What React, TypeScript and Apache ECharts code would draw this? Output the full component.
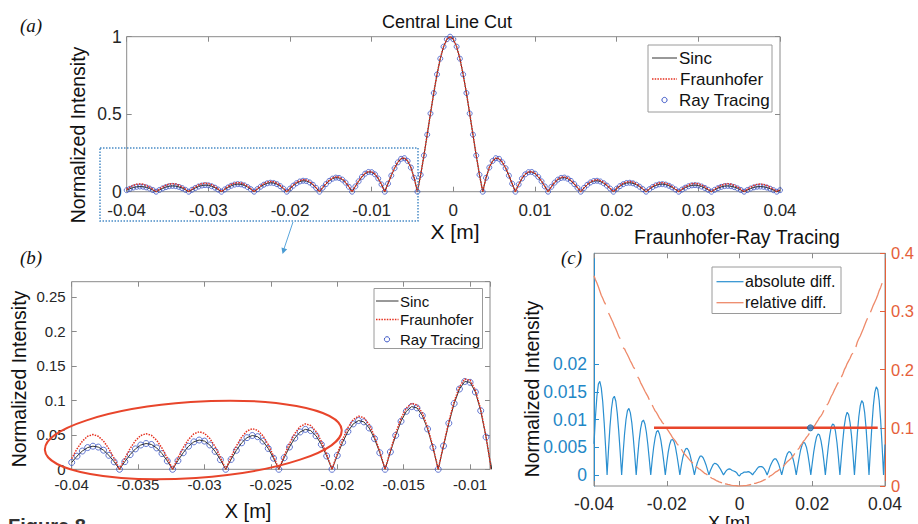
import React, { useEffect, useRef } from "react";
import * as echarts from "echarts";

// sample grid of the line cut (x in metres)
const X_START = -0.04;
const X_STEP = 0.0004;

// |sinc| line cut (normalized intensity), 201 samples
const SINC = [
  0.0099, 0.0191, 0.0265, 0.0315, 0.0335, 0.0322, 0.0277, 0.0203, 0.0108, 0,
  0.0111, 0.0213, 0.0296, 0.0352, 0.0374, 0.0360, 0.0310, 0.0228, 0.0121, 0,
  0.0125, 0.0240, 0.0334, 0.0398, 0.0424, 0.0409, 0.0353, 0.0260, 0.0139, 0,
  0.0143, 0.0275, 0.0384, 0.0459, 0.0490, 0.0473, 0.0409, 0.0302, 0.0161, 0,
  0.0167, 0.0323, 0.0452, 0.0541, 0.0579, 0.0561, 0.0486, 0.0360, 0.0193, 0,
  0.0201, 0.0390, 0.0548, 0.0658, 0.0707, 0.0688, 0.0599, 0.0445, 0.0240, 0,
  0.0252, 0.0492, 0.0696, 0.0841, 0.0909, 0.0890, 0.0780, 0.0585, 0.0317, 0,
  0.0339, 0.0668, 0.0954, 0.1164, 0.1273, 0.1261, 0.1120, 0.0850, 0.0468, 0,
  0.0518, 0.1039, 0.1515, 0.1892, 0.2122, 0.2162, 0.1981, 0.1559, 0.0894, 0,
  0.1093, 0.2339, 0.3679, 0.5046, 0.6366, 0.7568, 0.8584, 0.9355, 0.9836, 1,
  0.9836, 0.9355, 0.8584, 0.7568, 0.6366, 0.5046, 0.3679, 0.2339, 0.1093, 0,
  0.0894, 0.1559, 0.1981, 0.2162, 0.2122, 0.1892, 0.1515, 0.1039, 0.0518, 0,
  0.0468, 0.0850, 0.1120, 0.1261, 0.1273, 0.1164, 0.0954, 0.0668, 0.0339, 0,
  0.0317, 0.0585, 0.0780, 0.0890, 0.0909, 0.0841, 0.0696, 0.0492, 0.0252, 0,
  0.0240, 0.0445, 0.0599, 0.0688, 0.0707, 0.0658, 0.0548, 0.0390, 0.0201, 0,
  0.0193, 0.0360, 0.0486, 0.0561, 0.0579, 0.0541, 0.0452, 0.0323, 0.0167, 0,
  0.0161, 0.0302, 0.0409, 0.0473, 0.0490, 0.0459, 0.0384, 0.0275, 0.0143, 0,
  0.0139, 0.0260, 0.0353, 0.0409, 0.0424, 0.0398, 0.0334, 0.0240, 0.0125, 0,
  0.0121, 0.0228, 0.0310, 0.0360, 0.0374, 0.0352, 0.0296, 0.0213, 0.0111, 0,
  0.0108, 0.0203, 0.0277, 0.0322, 0.0335, 0.0315, 0.0265, 0.0191, 0.0099, 0,
  0.0097,
];

// Fraunhofer line cut, 201 samples
const FRAUNHOFER = [
  0.0155, 0.0296, 0.0407, 0.0479, 0.0504, 0.0479, 0.0409, 0.0297, 0.0157, 0,
  0.0158, 0.0301, 0.0415, 0.0490, 0.0516, 0.0493, 0.0421, 0.0307, 0.0162, 0,
  0.0164, 0.0314, 0.0434, 0.0514, 0.0544, 0.0521, 0.0447, 0.0327, 0.0174, 0,
  0.0176, 0.0337, 0.0467, 0.0555, 0.0589, 0.0565, 0.0486, 0.0357, 0.0189, 0,
  0.0194, 0.0373, 0.0519, 0.0619, 0.0659, 0.0635, 0.0548, 0.0404, 0.0216, 0,
  0.0223, 0.0431, 0.0603, 0.0721, 0.0771, 0.0748, 0.0649, 0.0480, 0.0258, 0,
  0.0269, 0.0523, 0.0737, 0.0888, 0.0957, 0.0934, 0.0816, 0.0610, 0.0330, 0,
  0.0351, 0.0690, 0.0983, 0.1198, 0.1307, 0.1292, 0.1145, 0.0868, 0.0477, 0,
  0.0526, 0.1053, 0.1534, 0.1913, 0.2142, 0.2180, 0.1995, 0.1569, 0.0899, 0,
  0.1097, 0.2347, 0.3689, 0.5057, 0.6376, 0.7576, 0.8591, 0.9361, 0.9840, 1,
  0.9834, 0.9357, 0.8587, 0.7573, 0.6371, 0.5051, 0.3685, 0.2344, 0.1096, 0,
  0.0898, 0.1566, 0.1992, 0.2176, 0.2137, 0.1907, 0.1529, 0.1050, 0.0524, 0,
  0.0475, 0.0865, 0.1141, 0.1287, 0.1302, 0.1193, 0.0979, 0.0687, 0.0349, 0,
  0.0328, 0.0607, 0.0812, 0.0929, 0.0951, 0.0882, 0.0732, 0.0519, 0.0267, 0,
  0.0256, 0.0476, 0.0644, 0.0742, 0.0766, 0.0715, 0.0598, 0.0427, 0.0221, 0,
  0.0214, 0.0401, 0.0543, 0.0630, 0.0653, 0.0613, 0.0514, 0.0369, 0.0192, 0,
  0.0187, 0.0352, 0.0480, 0.0559, 0.0582, 0.0549, 0.0462, 0.0333, 0.0174, 0,
  0.0171, 0.0322, 0.0441, 0.0514, 0.0537, 0.0507, 0.0428, 0.0310, 0.0162, 0,
  0.0159, 0.0303, 0.0415, 0.0485, 0.0508, 0.0482, 0.0409, 0.0297, 0.0156, 0,
  0.0154, 0.0292, 0.0402, 0.0471, 0.0494, 0.0469, 0.0399, 0.0290, 0.0152, 0,
  0.0152,
];

// ray-tracing samples coincide with the sinc values at this resolution
const RAY_TRACING = [...SINC];

// panel (c) marker line and point (right axis)
const THRESHOLD_X = [-0.0235, 0.038];
const THRESHOLD_Y = 0.1;
const CROSS_POINT = [0.0195, 0.1];

const X = SINC.map((_, k) => +(X_START + k * X_STEP).toFixed(4));
const pairs = (ys: (number | null)[]) => ys.map((y, k) => [X[k], y]);
const ABS_DIFF = FRAUNHOFER.map((f, k) => +(f - RAY_TRACING[k]).toFixed(5));
const REL_DIFF = FRAUNHOFER.map((f, k) =>
  RAY_TRACING[k] === 0 ? null : +((f - RAY_TRACING[k]) / f).toFixed(5)
);

const FONT = "'Liberation Sans', Arial, Helvetica, sans-serif";
const SERIF = "'Liberation Serif', 'Times New Roman', serif";
const GREY = "#8a8a8a";
const TXT = "#262626";
const RED = "#e5301f";
const BLUE_M = "#3b55c6";
const C_BLUE = "#2a8fd0";
const C_BLUE_TXT = "#1f87c6";
const C_ORANGE = "#e5603a";
const C_ORANGE_LINE = "#ee8a6a";

function xAx(grid: number, pos: string, min: number, max: number, interval: number, fs: number, margin: number, labels = true, showMax = false) {
  return {
    type: "value", gridIndex: grid, position: pos, min, max, interval,
    axisLine: { show: false, onZero: false },
    axisTick: { show: true, inside: true, length: 5, lineStyle: { color: GREY } },
    splitLine: { show: false },
    axisLabel: { show: labels, color: TXT, fontSize: fs, margin, fontFamily: FONT, showMaxLabel: showMax, showMinLabel: true },
  };
}
function yAx(grid: number, pos: string, min: number, max: number, interval: number, fs: number, margin: number, labels = true, showMax = true) {
  return {
    type: "value", gridIndex: grid, position: pos, min, max, interval,
    axisLine: { show: false, onZero: false },
    axisTick: { show: true, inside: true, length: 5, lineStyle: { color: GREY } },
    splitLine: { show: false },
    axisLabel: { show: labels, color: TXT, fontSize: fs, margin, fontFamily: FONT, showMaxLabel: showMax },
  };
}

const lineS = (name: string, xi: number, yi: number, data: any, color: string, width: number, type: any) => ({
  name, type: "line", xAxisIndex: xi, yAxisIndex: yi, data, symbol: "none", showSymbol: false,
  lineStyle: { color, width, type }, silent: true, clip: true,
});
const scatterS = (name: string, xi: number, yi: number, data: any, size: number) => ({
  name, type: "scatter", xAxisIndex: xi, yAxisIndex: yi, data, symbol: "circle", symbolSize: size,
  itemStyle: { color: "rgba(0,0,0,0)", borderColor: BLUE_M, borderWidth: 1 }, silent: true, clip: true,
});

const txt = (text: string, x: number, y: number, font: string, fill = "#111", align = "center", rotation = 0) => ({
  type: "text", x, y, rotation, z: 100, silent: true,
  style: { text, font, fill, textAlign: align, textVerticalAlign: "middle" },
});
const ln = (x1: number, y1: number, x2: number, y2: number, stroke: string, lineWidth: number, lineDash?: number[]) => ({
  type: "line", z: 101, silent: true, shape: { x1, y1, x2, y2 }, style: { stroke, lineWidth, lineDash },
});

const option: any = {
  animation: false,
  backgroundColor: "#ffffff",
  textStyle: { fontFamily: FONT },
  grid: [
    { left: 126.7, top: 36.7, width: 653.3, height: 155, show: true, borderColor: GREY, borderWidth: 1, backgroundColor: "transparent" },
    { left: 71.7, top: 281.7, width: 418.3, height: 187.6, show: true, borderColor: GREY, borderWidth: 1, backgroundColor: "transparent" },
    { left: 594, top: 253.3, width: 291, height: 232.7, show: true, borderColor: GREY, borderWidth: 1, backgroundColor: "transparent" },
  ],
  xAxis: [
    xAx(0, "bottom", -0.04, 0.04, 0.01, 17, 10.5, true, true),
    xAx(0, "top", -0.04, 0.04, 0.01, 17, 8, false),
    xAx(1, "bottom", -0.04, -0.0085, 0.005, 15, 8),
    xAx(1, "top", -0.04, -0.0085, 0.005, 15, 8, false),
    xAx(2, "bottom", -0.04, 0.04, 0.02, 17.5, 8.5, true, true),
    xAx(2, "top", -0.04, 0.04, 0.02, 17.5, 8, false),
  ],
  yAxis: [
    yAx(0, "left", 0, 1, 0.5, 17.5, 5),
    yAx(0, "right", 0, 1, 0.5, 17, 5, false),
    yAx(1, "left", 0, 0.272, 0.05, 15, 6, true, false),
    yAx(1, "right", 0, 0.272, 0.05, 15, 6, false, false),
    {
      type: "value", gridIndex: 2, position: "left", min: -0.002, max: 0.04,
      axisLine: { show: true, onZero: false, lineStyle: { color: C_BLUE, width: 1 } },
      axisTick: { show: true, inside: true, length: 5, lineStyle: { color: C_BLUE }, customValues: [0, 0.005, 0.01, 0.015, 0.02] },
      splitLine: { show: false },
      axisLabel: { color: C_BLUE_TXT, fontSize: 17.5, margin: 7, fontFamily: FONT, customValues: [0, 0.005, 0.01, 0.015, 0.02] },
    },
    {
      type: "value", gridIndex: 2, position: "right", min: 0, max: 0.4, interval: 0.1,
      axisLine: { show: true, onZero: false, lineStyle: { color: C_ORANGE, width: 1 } },
      axisTick: { show: true, inside: true, length: 5, lineStyle: { color: C_ORANGE } },
      splitLine: { show: false },
      axisLabel: { color: C_ORANGE, fontSize: 16.5, margin: 6, fontFamily: FONT },
    },
  ],
  series: [
    lineS("Sinc", 0, 0, pairs(SINC), "#333333", 1, "solid"),
    lineS("Fraunhofer", 0, 0, pairs(FRAUNHOFER), RED, 1.5, [1.5, 1.2]),
    scatterS("Ray Tracing", 0, 0, pairs(RAY_TRACING), 5),
    lineS("Sinc", 2, 2, pairs(SINC), "#333333", 1, "solid"),
    lineS("Fraunhofer", 2, 2, pairs(FRAUNHOFER), RED, 1.5, [1.5, 1.2]),
    scatterS("Ray Tracing", 2, 2, pairs(RAY_TRACING), 6),
    lineS("absolute diff.", 4, 4, pairs(ABS_DIFF), C_BLUE, 1.2, "solid"),
    { ...lineS("relative diff.", 4, 5, pairs(REL_DIFF), C_ORANGE_LINE, 1.3, "solid"), connectNulls: false },
    lineS("threshold", 4, 5, THRESHOLD_X.map((x) => [x, THRESHOLD_Y]), "#e8452b", 2.5, "solid"),
    {
      name: "crossing", type: "scatter", xAxisIndex: 4, yAxisIndex: 5, data: [CROSS_POINT], symbol: "circle",
      symbolSize: 6, itemStyle: { color: "#2f86c8", borderColor: "#1b5f9c", borderWidth: 1 }, silent: true, z: 5,
    },
  ],
  graphic: [
    // panel labels and titles
    txt("(a)", 20, 25, `italic 19px ${SERIF}`, "#111", "left"),
    txt("(b)", 20, 257, `italic 19px ${SERIF}`, "#111", "left"),
    txt("(c)", 561, 257, `italic 19px ${SERIF}`, "#111", "left"),
    txt("Central Line Cut", 447, 22, `18px ${FONT}`, "#111"),
    txt("Fraunhofer-Ray Tracing", 737, 237, `19.5px ${FONT}`, "#111"),
    txt("X [m]", 455, 231, `21px ${FONT}`, "#111"),
    txt("X [m]", 248, 511, `20px ${FONT}`, "#111"),
    txt("X [m]", 729, 522.5, `18px ${FONT}`, "#111"),
    txt("Normalized Intensity", 78, 135, `19.5px ${FONT}`, "#111", "center", Math.PI / 2),
    txt("Normalized Intensity", 19, 379, `19.5px ${FONT}`, "#111", "center", Math.PI / 2),
    txt("Normalized Intensity", 532, 389, `19.5px ${FONT}`, "#111", "center", Math.PI / 2),
    txt("Figure 8", 8, 526, `bold 20px ${FONT}`, "#333", "left"),
    // zoom box and arrow in (a)
    {
      type: "rect", z: 100, silent: true, shape: { x: 100, y: 148, width: 318, height: 73 },
      style: { fill: "none", stroke: "#4a8cc6", lineWidth: 1.5, lineDash: [1.5, 1.5] },
    },
    ln(293, 222, 283.6, 250, "#5aa6dc", 1),
    {
      type: "polygon", z: 101, silent: true,
      shape: { points: [[282.5, 254], [287.2, 249.2], [281.5, 247.4]] }, style: { fill: "#4b9cd3" },
    },
    // ellipse in (b)
    {
      type: "ellipse", z: 101, silent: true, x: 193.3, y: 440, rotation: 0.068,
      shape: { cx: 0, cy: 0, rx: 148.7, ry: 38 }, style: { fill: "none", stroke: "#e8452b", lineWidth: 2 },
    },
    // legend (a)
    { type: "rect", z: 100, silent: true, shape: { x: 648, y: 45, width: 124, height: 67 }, style: { fill: "#fff", stroke: "#9a9a9a", lineWidth: 1 } },
    ln(652, 58, 677, 58, "#333333", 1),
    ln(652, 79, 677, 79, RED, 1.5, [1.5, 1.2]),
    { type: "circle", z: 101, silent: true, shape: { cx: 664.5, cy: 100, r: 2.6 }, style: { fill: "none", stroke: BLUE_M, lineWidth: 1 } },
    txt("Sinc", 679, 58, `17px ${FONT}`, "#111", "left"),
    txt("Fraunhofer", 680, 79, `17px ${FONT}`, "#111", "left"),
    txt("Ray Tracing", 679, 100, `17px ${FONT}`, "#111", "left"),
    // legend (b)
    { type: "rect", z: 100, silent: true, shape: { x: 374, y: 288.5, width: 108.5, height: 60 }, style: { fill: "#fff", stroke: "#9a9a9a", lineWidth: 1 } },
    ln(376, 301, 398.5, 301, "#333333", 1),
    ln(376, 319.5, 398.5, 319.5, RED, 1.5, [1.5, 1.2]),
    { type: "circle", z: 101, silent: true, shape: { cx: 387, cy: 339.3, r: 2.6 }, style: { fill: "none", stroke: BLUE_M, lineWidth: 1 } },
    txt("Sinc", 400, 301, `15px ${FONT}`, "#111", "left"),
    txt("Fraunhofer", 400, 319.5, `15px ${FONT}`, "#111", "left"),
    txt("Ray Tracing", 400, 339.3, `15px ${FONT}`, "#111", "left"),
    // legend (c)
    { type: "rect", z: 100, silent: true, shape: { x: 712, y: 267, width: 129, height: 46.5 }, style: { fill: "#fff", stroke: "#9a9a9a", lineWidth: 1 } },
    ln(716.5, 281.7, 743.5, 281.7, C_BLUE, 1.2),
    ln(716.5, 302.7, 743.5, 302.7, C_ORANGE_LINE, 1.3),
    txt("absolute diff.", 745, 281.7, `16px ${FONT}`, "#111", "left"),
    txt("relative diff.", 745, 302.7, `16px ${FONT}`, "#111", "left"),
  ],
};

export default function App() {
  const ref = useRef<HTMLDivElement>(null);
  useEffect(() => {
    if (!ref.current) return;
    const chart = echarts.init(ref.current, null, { renderer: "svg" });
    chart.setOption(option);
    return () => chart.dispose();
  }, []);
  return (
    <div
      ref={ref}
      style={{ position: "fixed", left: 0, top: 0, width: 918, height: 524, background: "#fff" }}
    />
  );
}
